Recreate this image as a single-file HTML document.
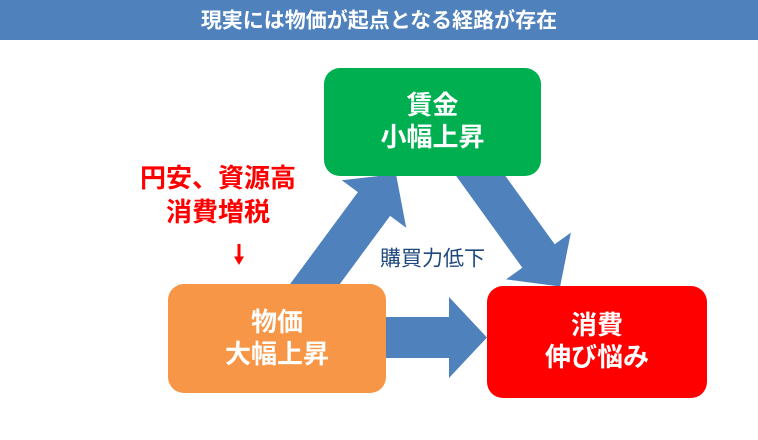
<!DOCTYPE html>
<html><head><meta charset="utf-8"><style>
html,body{margin:0;padding:0;background:#fff;}
svg{display:block;}
text{font-family:"Liberation Sans","Noto Sans CJK JP",sans-serif;}
</style></head><body>
<svg width="758" height="440" viewBox="0 0 758 440" xmlns="http://www.w3.org/2000/svg">
<rect x="0" y="0" width="758" height="440" fill="#fff"/>
<rect x="0" y="0" width="758" height="40" fill="#4F81BD"/>
<text x="379" y="21" fill="#fff" font-size="21" font-weight="bold" text-anchor="middle" dominant-baseline="central">現実には物価が起点となる経路が存在</text>

<!-- arrows -->
<polygon fill="#4F81BD" points="287,288.2 357.9,192.1 341.8,180.3 396,174 406.2,227.7 390.1,215.9 319.2,312"/>
<polygon fill="#4F81BD" points="452.1,170.4 522.3,267.7 506.1,279.4 560.1,286.5 570.9,232.6 554.7,244.3 484.5,147"/>
<polygon fill="#4F81BD" points="370,317 449,317 449,297 487,337.5 449,378 449,358 370,358"/>

<!-- boxes -->
<rect x="324" y="68" width="217" height="108" rx="16" ry="16" fill="#00B050"/>
<text x="432.5" y="105" fill="#fff" font-size="26" font-weight="bold" text-anchor="middle" dominant-baseline="central">賃金</text>
<text x="432.5" y="137" fill="#fff" font-size="26" font-weight="bold" text-anchor="middle" dominant-baseline="central">小幅上昇</text>

<rect x="168" y="284" width="218" height="109" rx="16" ry="16" fill="#F79646"/>
<text x="277" y="322" fill="#fff" font-size="26" font-weight="bold" text-anchor="middle" dominant-baseline="central">物価</text>
<text x="277" y="354" fill="#fff" font-size="26" font-weight="bold" text-anchor="middle" dominant-baseline="central">大幅上昇</text>

<rect x="487" y="286" width="220" height="112" rx="16" ry="16" fill="#FF0000"/>
<text x="597" y="325" fill="#fff" font-size="26" font-weight="bold" text-anchor="middle" dominant-baseline="central">消費</text>
<text x="597" y="357" fill="#fff" font-size="26" font-weight="bold" text-anchor="middle" dominant-baseline="central">伸び悩み</text>

<!-- red text -->
<text x="218" y="178" fill="#FF0000" font-size="26" font-weight="bold" text-anchor="middle" dominant-baseline="central">円安、資源高</text>
<text x="218" y="212" fill="#FF0000" font-size="26" font-weight="bold" text-anchor="middle" dominant-baseline="central">消費増税</text>
<line x1="239" y1="244" x2="239" y2="259" stroke="#FF0000" stroke-width="3"/>
<polygon fill="#FF0000" points="234,256.5 244,256.5 239,265"/>

<text x="432.5" y="259" fill="#1F497D" font-size="21" text-anchor="middle" dominant-baseline="central">購買力低下</text>
</svg>
</body></html>
